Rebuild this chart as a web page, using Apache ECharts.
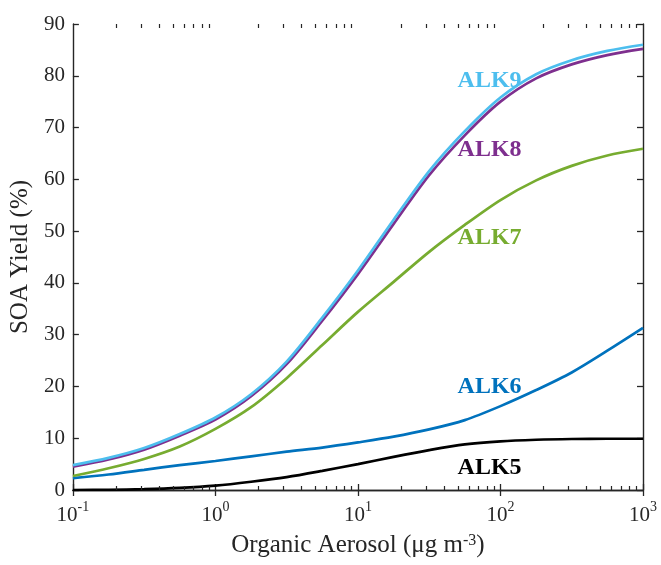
<!DOCTYPE html>
<html>
<head>
<meta charset="utf-8">
<script src="https://cdn.jsdelivr.net/npm/echarts@6/dist/echarts.min.js"></script>
<style>
  html, body { margin: 0; padding: 0; background: #ffffff; }
  #chart { width: 661px; height: 565px; }
</style>
</head>
<body>
<div id="chart"></div>
<script>
// Organic aerosol mass concentration (µg m^-3), quarter-decade sample points
const organicAerosol = [0.1, 0.178, 0.316, 0.562, 1, 1.78, 3.16, 5.62, 10, 17.8, 31.6, 56.2, 100, 178, 316, 562, 1000];

// SOA yield (%) for each alkane lumped species
const alk5 = [0.0, 0.03, 0.15, 0.4, 0.85, 1.6, 2.5, 3.7, 5.0, 6.4, 7.7, 8.8, 9.4, 9.7, 9.85, 9.9, 9.9];
const alk6 = [2.3, 3.0, 3.9, 4.8, 5.6, 6.5, 7.4, 8.2, 9.2, 10.3, 11.7, 13.5, 16.2, 19.3, 22.7, 26.9, 31.3];
const alk7 = [2.7, 4.2, 6.0, 8.4, 11.8, 16.0, 21.6, 28.0, 34.4, 40.2, 46.0, 51.2, 56.0, 59.8, 62.6, 64.6, 65.9];
const alk8 = [4.5, 5.9, 7.8, 10.5, 13.6, 18.1, 24.3, 32.7, 41.7, 51.4, 60.8, 68.5, 75.0, 79.5, 82.2, 84.0, 85.2];
const alk9 = [4.8, 6.2, 8.1, 10.8, 14.0, 18.5, 24.8, 33.3, 42.4, 52.2, 61.6, 69.3, 75.8, 80.3, 83.0, 84.8, 86.0];

// Axis ticks
const xDecadeExponents = ['-1', '0', '1', '2', '3'];
const xMinorTicks = [0.2, 0.3, 0.4, 0.5, 0.6, 0.7, 0.8, 0.9,
                     2, 3, 4, 5, 6, 7, 8, 9,
                     20, 30, 40, 50, 60, 70, 80, 90,
                     200, 300, 400, 500, 600, 700, 800, 900];
const yTicks = [0, 10, 20, 30, 40, 50, 60, 70, 80, 90];

const seriesNames = ['ALK5', 'ALK6', 'ALK7', 'ALK8', 'ALK9'];

// ---- styling / layout ----
const FONT = '"Liberation Serif", "Times New Roman", serif';
const INK = '#262626';
const colors = { ALK5: '#000000', ALK6: '#0072BD', ALK7: '#77AC30', ALK8: '#7E2F8E', ALK9: '#4DBEEE' };
const labelAnchor = { ALK5: [50, 4.3], ALK6: [50, 19.9], ALK7: [50, 48.7], ALK8: [50, 65.7], ALK9: [50, 79.1] };
const values = { ALK5: alk5, ALK6: alk6, ALK7: alk7, ALK8: alk8, ALK9: alk9 };
const yMin = yTicks[0], yMax = yTicks[yTicks.length - 1];

function lineSeries(name) {
  return {
    name: name,
    type: 'line',
    xAxisIndex: 0,
    yAxisIndex: 0,
    data: organicAerosol.map((x, i) => [x, values[name][i]]),
    showSymbol: false,
    smooth: 0.3,
    lineStyle: { color: colors[name], width: 2.7 },
    itemStyle: { color: colors[name] },
    silent: true,
    markPoint: {
      silent: true,
      symbol: 'circle',
      symbolSize: 0,
      data: [{
        coord: labelAnchor[name],
        label: {
          show: true,
          position: 'right',
          distance: 0,
          formatter: name,
          color: colors[name],
          fontFamily: FONT,
          fontWeight: 'bold',
          fontSize: 24
        }
      }]
    }
  };
}

const tickLabelRich = {
  b: { fontFamily: FONT, fontSize: 21, color: INK, lineHeight: 26, verticalAlign: 'bottom' },
  s: { fontFamily: FONT, fontSize: 14, color: INK, lineHeight: 14, verticalAlign: 'top' }
};

const tickStyle = { color: INK, width: 1.3 };

const xAxisCommon = {
  type: 'log',
  logBase: 10,
  min: 0.1,
  max: 1000,
  splitLine: { show: false },
  axisLine: { show: true, lineStyle: { color: INK, width: 1.4 } },
  axisTick: { show: true, inside: true, length: 6, lineStyle: tickStyle }
};

const yAxisCommon = {
  type: 'value',
  min: yMin,
  max: yMax,
  interval: 10,
  splitLine: { show: false },
  axisLine: { show: true, lineStyle: { color: INK, width: 1.4 } },
  axisTick: { show: true, inside: true, length: 6, lineStyle: tickStyle }
};

// minor tick marks of the log axis: one item per tick per edge (bottom / top)
const minorTickItems = [];
xMinorTicks.forEach(v => { minorTickItems.push([v, yMin]); minorTickItems.push([v, yMax]); });

const option = {
  backgroundColor: '#ffffff',
  animation: false,
  grid: { left: 69, right: 18, top: 24, bottom: 75, containLabel: false },
  xAxis: [
    Object.assign({}, xAxisCommon, {
      position: 'bottom',
      name: 'Organic Aerosol (μg m{s|-3})',
      nameLocation: 'middle',
      nameGap: 43,
      nameTextStyle: {
        fontFamily: FONT, fontSize: 25, color: INK,
        rich: {
          s: { fontFamily: FONT, fontSize: 16, color: INK, verticalAlign: 'top', lineHeight: 16 }
        }
      },
      axisLabel: {
        show: true,
        margin: 10,
        formatter: function (v) {
          const e = Math.round(Math.log10(v));
          return '{b|10}{s|' + xDecadeExponents[e + 1] + '}';
        },
        rich: tickLabelRich
      }
    }),
    Object.assign({}, xAxisCommon, {
      position: 'top',
      axisLabel: { show: false }
    })
  ],
  yAxis: [
    Object.assign({}, yAxisCommon, {
      position: 'left',
      name: 'SOA Yield (%)',
      nameLocation: 'middle',
      nameGap: 27,
      nameTextStyle: { fontFamily: FONT, fontSize: 25, color: INK },
      axisLabel: {
        show: true,
        margin: 8,
        fontFamily: FONT,
        fontSize: 21,
        color: INK,
        formatter: function (v) { return yTicks.indexOf(v) >= 0 ? String(v) : ''; }
      }
    }),
    Object.assign({}, yAxisCommon, {
      position: 'right',
      axisLabel: { show: false }
    })
  ],
  series: [
    {
      type: 'custom',
      silent: true,
      xAxisIndex: 0,
      yAxisIndex: 0,
      clip: false,
      z: 5,
      data: minorTickItems,
      encode: { x: 0, y: 1 },
      renderItem: function (params, api) {
        const v = api.value(0);
        const edge = api.value(1);
        const p = api.coord([v, edge]);
        const x = Math.round(p[0]) + 0.5;
        const dir = edge === yMin ? -1 : 1;
        return {
          type: 'line',
          shape: { x1: x, y1: p[1], x2: x, y2: p[1] + dir * 4 },
          style: { stroke: INK, lineWidth: 1.2 }
        };
      }
    }
  ].concat(seriesNames.map(lineSeries))
};

const chart = echarts.init(document.getElementById('chart'), null, { renderer: 'canvas' });
chart.setOption(option);
</script>
</body>
</html>
